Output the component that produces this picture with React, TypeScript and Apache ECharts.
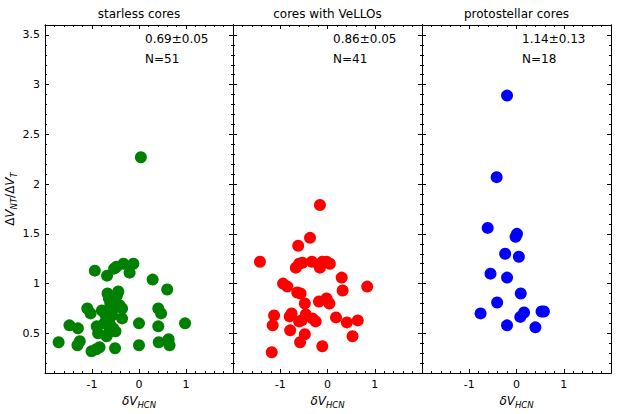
import React, { useEffect, useRef } from "react";
import * as echarts from "echarts";

const panelTitles = ["starless cores", "cores with VeLLOs", "protostellar cores"];
const panelStats = ["0.69±0.05", "0.86±0.05", "1.14±0.13"];
const panelCounts = ["N=51", "N=41", "N=18"];
const panelColors = ["#008000", "#ff0000", "#0000ff"];

const starless: number[][] = [
  [-1.71, 0.41], [-1.48, 0.58], [-1.30, 0.55], [-1.31, 0.38], [-1.26, 0.42],
  [-1.10, 0.75], [-1.03, 0.70], [-0.94, 1.13], [-1.01, 0.32], [-0.91, 0.34],
  [-0.84, 0.36], [-0.90, 0.57], [-0.87, 0.50], [-0.79, 0.73], [-0.68, 1.08],
  [-0.67, 0.90], [-0.64, 0.85], [-0.61, 0.80], [-0.71, 0.68], [-0.64, 0.63],
  [-0.61, 0.58], [-0.69, 0.47], [-0.64, 0.51], [-0.57, 0.68], [-0.55, 0.55],
  [-0.50, 0.52], [-0.53, 1.15], [-0.48, 1.17], [-0.44, 0.92], [-0.47, 0.88],
  [-0.41, 0.78], [-0.36, 0.75], [-0.36, 0.65], [-0.51, 0.35], [-0.33, 1.20],
  [-0.20, 1.11], [-0.12, 1.20], [0.00, 0.60], [0.00, 0.38], [0.29, 1.04],
  [0.41, 0.75], [0.47, 0.70], [0.41, 0.57], [0.42, 0.41], [0.60, 0.94],
  [0.63, 0.44], [0.65, 0.38], [0.98, 0.60], [0.04, 2.27], [-0.74, 0.60],
  [-0.58, 0.72],
];

const vellos: number[][] = [
  [-0.16, 1.79], [-0.37, 1.46], [-0.62, 1.38], [-1.43, 1.22], [-0.67, 1.16],
  [-0.60, 1.20], [-0.53, 1.21], [-0.33, 1.22], [-0.16, 1.16], [-0.11, 1.22],
  [-0.02, 1.22], [0.05, 1.20], [0.30, 1.06], [0.84, 0.97], [-0.94, 1.00],
  [-0.85, 0.97], [-0.64, 0.91], [-0.57, 0.90], [0.32, 0.93], [-0.48, 0.80],
  [-0.18, 0.82], [-0.02, 0.85], [0.04, 0.80], [-1.13, 0.68], [-1.16, 0.58],
  [-0.76, 0.70], [-0.80, 0.67], [-0.60, 0.62], [-0.46, 0.69], [-0.32, 0.65],
  [-0.25, 0.62], [0.18, 0.66], [0.41, 0.61], [0.64, 0.63], [-0.79, 0.53],
  [-0.48, 0.49], [0.53, 0.47], [-0.58, 0.41], [-0.11, 0.37], [-1.18, 0.31],
  [-0.55, 0.63],
];

const protostellar: number[][] = [
  [-0.20, 2.89], [-0.42, 2.07], [-0.61, 1.56], [0.01, 1.50], [-0.02, 1.47],
  [-0.24, 1.30], [0.05, 1.27], [-0.55, 1.10], [-0.20, 1.06], [0.09, 0.90],
  [-0.41, 0.81], [-0.76, 0.70], [0.16, 0.71], [0.08, 0.665], [0.53, 0.72],
  [0.58, 0.72], [-0.20, 0.58], [0.40, 0.56],
];

const panelData = [starless, vellos, protostellar];

const yMajorTicks = [0.5, 1, 1.5, 2, 2.5, 3, 3.5];
const yMinorTicks = [
  0.2, 0.3, 0.4, 0.6, 0.7, 0.8, 0.9, 1.1, 1.2, 1.3, 1.4, 1.6, 1.7, 1.8, 1.9,
  2.1, 2.2, 2.3, 2.4, 2.6, 2.7, 2.8, 2.9, 3.1, 3.2, 3.3, 3.4, 3.5,
];

const FONT = "DejaVu Sans";

export default function App() {
  const ref = useRef<HTMLDivElement>(null);

  useEffect(() => {
    if (!ref.current) return;
    const chart = echarts.init(ref.current, null, { renderer: "svg" });

    const grids = [
      { left: 45, top: 25, width: 188, height: 350 },
      { left: 233, top: 25, width: 189, height: 350 },
      { left: 422, top: 25, width: 189, height: 350 },
    ];

    const lineStyle = { color: "#000", width: 1 };
    const xAxes: any[] = [];
    const yAxes: any[] = [];
    const series: any[] = [];
    const graphics: any[] = [];

    const subRich = {
      n: { fontFamily: FONT, fontSize: 12, color: "#000", lineHeight: 16, verticalAlign: "middle" },
      i: { fontFamily: FONT, fontSize: 12, fontStyle: "italic", color: "#000", lineHeight: 16, verticalAlign: "middle" },
      s: { fontFamily: FONT, fontSize: 8.5, fontStyle: "italic", color: "#000", lineHeight: 9, verticalAlign: "bottom" },
    };

    grids.forEach((g, p) => {
      const baseX = {
        gridIndex: p,
        type: "value",
        min: -2,
        max: 2,
        interval: 1,
        splitLine: { show: false },
        minorSplitLine: { show: false },
        axisLine: { show: true, onZero: false, lineStyle },
        axisTick: { show: true, inside: true, length: 4, lineStyle },
        minorTick: { show: true, splitNumber: 5, length: 2, lineStyle },
      };
      xAxes.push({
        ...baseX,
        position: "bottom",
        axisLabel: {
          show: true,
          showMinLabel: false,
          showMaxLabel: false,
          fontFamily: FONT,
          fontSize: 11,
          color: "#000",
          margin: 6,
        },
        name: "{i|δV}{s|HCN}",
        nameLocation: "middle",
        nameGap: 19,
        nameTextStyle: { rich: subRich },
      });
      xAxes.push({ ...baseX, position: "top", axisLabel: { show: false } });

      const baseY = {
        gridIndex: p,
        type: "value",
        min: 0.1,
        max: 3.6,
        splitLine: { show: false },
        axisLine: { show: true, onZero: false, lineStyle },
      };
      const leftMajorIdx = yAxes.length;
      yAxes.push({
        ...baseY,
        position: "left",
        axisTick: { show: true, inside: true, length: 4, lineStyle, customValues: yMajorTicks },
        axisLabel: {
          show: p === 0,
          customValues: yMajorTicks,
          fontFamily: FONT,
          fontSize: 11,
          color: "#000",
          margin: 5,
        },
        ...(p === 0
          ? {
              name: "{n|Δ}{i|V}{s|NT}{n|/Δ}{i|V}{s|T}",
              nameLocation: "middle",
              nameRotate: 90,
              nameGap: 27,
              nameTextStyle: { rich: subRich },
            }
          : {}),
      });
      yAxes.push({
        ...baseY,
        position: "left",
        axisTick: { show: true, inside: true, length: 2, lineStyle, customValues: yMinorTicks },
        axisLabel: { show: false, customValues: yMinorTicks },
      });
      yAxes.push({
        ...baseY,
        position: "right",
        axisTick: { show: true, inside: true, length: 4, lineStyle, customValues: yMajorTicks },
        axisLabel: { show: false, customValues: yMajorTicks },
      });
      yAxes.push({
        ...baseY,
        position: "right",
        axisTick: { show: true, inside: true, length: 2, lineStyle, customValues: yMinorTicks },
        axisLabel: { show: false, customValues: yMinorTicks },
      });

      series.push({
        type: "scatter",
        xAxisIndex: p * 2,
        yAxisIndex: leftMajorIdx,
        data: panelData[p],
        symbol: "circle",
        symbolSize: 12,
        itemStyle: { color: panelColors[p], opacity: 1 },
        silent: true,
      });

      const cx = g.left + g.width / 2;
      graphics.push({
        type: "text",
        x: cx,
        y: 14,
        style: {
          text: panelTitles[p],
          fontFamily: FONT,
          fontSize: 12,
          fill: "#000",
          textAlign: "center",
          textVerticalAlign: "middle",
          align: "center",
          verticalAlign: "middle",
        },
      });
      graphics.push({
        type: "text",
        x: g.left + 100,
        y: 39,
        style: {
          text: panelStats[p],
          fontFamily: FONT,
          fontSize: 12,
          fill: "#000",
          textAlign: "left",
          textVerticalAlign: "middle",
          align: "left",
          verticalAlign: "middle",
        },
      });
      graphics.push({
        type: "text",
        x: g.left + 100,
        y: 59,
        style: {
          text: panelCounts[p],
          fontFamily: FONT,
          fontSize: 12,
          fill: "#000",
          textAlign: "left",
          textVerticalAlign: "middle",
          align: "left",
          verticalAlign: "middle",
        },
      });
    });

    chart.setOption({
      animation: false,
      backgroundColor: "#fff",
      textStyle: { fontFamily: FONT },
      grid: grids,
      xAxis: xAxes,
      yAxis: yAxes,
      series,
      graphic: graphics,
    });

    return () => chart.dispose();
  }, []);

  return (
    <div
      ref={ref}
      style={{ position: "fixed", left: 0, top: 0, width: 619, height: 414, background: "#fff" }}
    />
  );
}
